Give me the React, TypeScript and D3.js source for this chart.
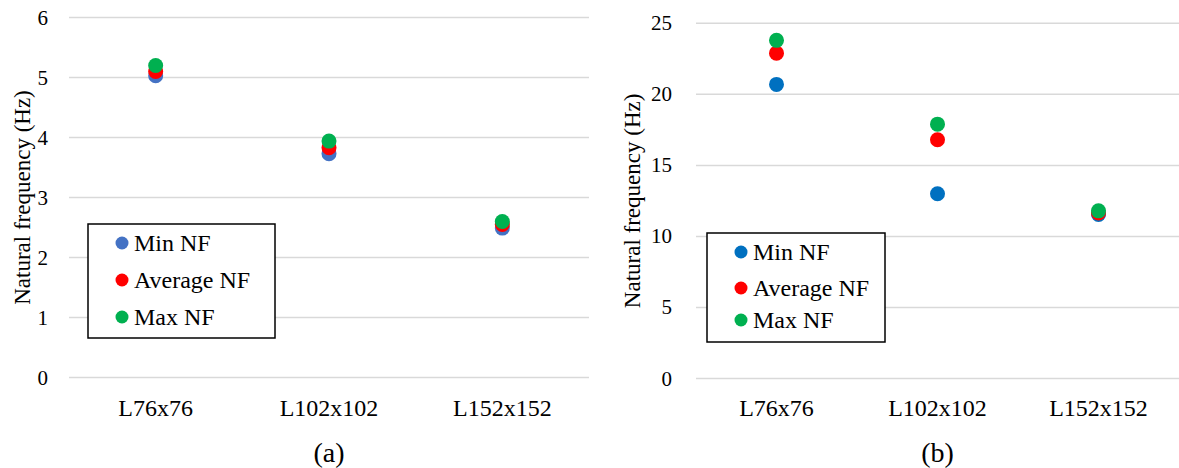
import * as d3 from "d3";

// categories and series
const categories = ["L76x76", "L102x102", "L152x152"];
const seriesNames = ["Min NF", "Average NF", "Max NF"];

// panel (a)
const minA = [5.03, 3.73, 2.49];
const avgA = [5.1, 3.83, 2.55];
const maxA = [5.2, 3.94, 2.6];
const ticksA = [0, 1, 2, 3, 4, 5, 6];

// panel (b)
const minB = [20.7, 13.0, 11.55];
const avgB = [22.9, 16.8, 11.65];
const maxB = [23.8, 17.9, 11.8];
const ticksB = [0, 5, 10, 15, 20, 25];

const colorsA = ["#4472C4", "#FF0000", "#00B050"];
const colorsB = ["#0070C0", "#FF0000", "#00B050"];

const FONT = "Liberation Serif";

type PanelProps = {
  x0: number; x1: number; yTop: number; yBottom: number;
  yMax: number; ticks: number[]; tickGap: number;
  series: number[][]; colors: string[];
  legend: { x: number; y: number; w: number; h: number; rows: number[] };
  titleX: number; caption: string;
};

const Panel = (p: PanelProps) => {
  const scaleX = d3.scaleBand<string>().domain(categories).range([p.x0, p.x1]);
  const scaleY = d3.scaleLinear().domain([0, p.yMax]).range([p.yBottom, p.yTop]);
  const bw = scaleX.bandwidth();
  const mid = (p.x0 + p.x1) / 2;
  const ts = { fontFamily: FONT };

  return (
    <g fill="#000">
      {/* сетка и подписи оси Y */}
      {p.ticks.map(t => (
        <g key={t}>
          <line x1={p.x0} x2={p.x1} y1={scaleY(t)} y2={scaleY(t)} stroke="#d9d9d9" strokeWidth={1.5} />
          <text style={ts} x={p.x0 - p.tickGap} y={scaleY(t)} textAnchor="end" dominantBaseline="central" fontSize={21}>{t}</text>
        </g>
      ))}
      {/* подписи категорий */}
      {categories.map(c => (
        <text key={c} style={ts} x={(scaleX(c) ?? 0) + bw / 2} y={408} textAnchor="middle" dominantBaseline="central" fontSize={24}>{c}</text>
      ))}
      {/* точки: min первым, чтобы max лежал сверху */}
      {p.series.map((vals, si) =>
        vals.map((v, i) => (
          <circle key={si + "-" + i} cx={(scaleX(categories[i]) ?? 0) + bw / 2} cy={scaleY(v)} r={7.5} fill={p.colors[si]} />
        ))
      )}
      {/* заголовок оси Y */}
      <text style={ts} transform={`translate(${p.titleX},${(p.yTop + p.yBottom) / 2}) rotate(-90)`} textAnchor="middle" dominantBaseline="central" fontSize={23}>
        Natural frequency (Hz)
      </text>
      {/* легенда */}
      <rect x={p.legend.x} y={p.legend.y} width={p.legend.w} height={p.legend.h} fill="#fff" stroke="#000" strokeWidth={1.5} />
      {seriesNames.map((s, i) => (
        <g key={s}>
          <circle cx={p.legend.x + 34} cy={p.legend.rows[i]} r={6.5} fill={p.colors[i]} />
          <text style={ts} x={p.legend.x + 46} y={p.legend.rows[i]} dominantBaseline="central" fontSize={24}>{s}</text>
        </g>
      ))}
      {/* подпись панели */}
      <text style={ts} x={mid} y={452} textAnchor="middle" dominantBaseline="central" fontSize={28}>{p.caption}</text>
    </g>
  );
};

export default function App() {
  return (
    <svg width={1179} height={468} style={{ position: "absolute", left: 0, top: 0, background: "#fff" }}>
      <rect width={1179} height={468} fill="#fff" />
      <Panel
        x0={69} x1={589} yTop={17.5} yBottom={377.5} yMax={6} ticks={ticksA} tickGap={21}
        series={[minA, avgA, maxA]} colors={colorsA}
        legend={{ x: 88, y: 224, w: 187, h: 114, rows: [243, 280, 317] }}
        titleX={22} caption="(a)"
      />
      <Panel
        x0={696} x1={1179} yTop={23.3} yBottom={378.5} yMax={25} ticks={ticksB} tickGap={24}
        series={[minB, avgB, maxB]} colors={colorsB}
        legend={{ x: 707, y: 233, w: 178, h: 109, rows: [252, 288, 320] }}
        titleX={632} caption="(b)"
      />
    </svg>
  );
}
